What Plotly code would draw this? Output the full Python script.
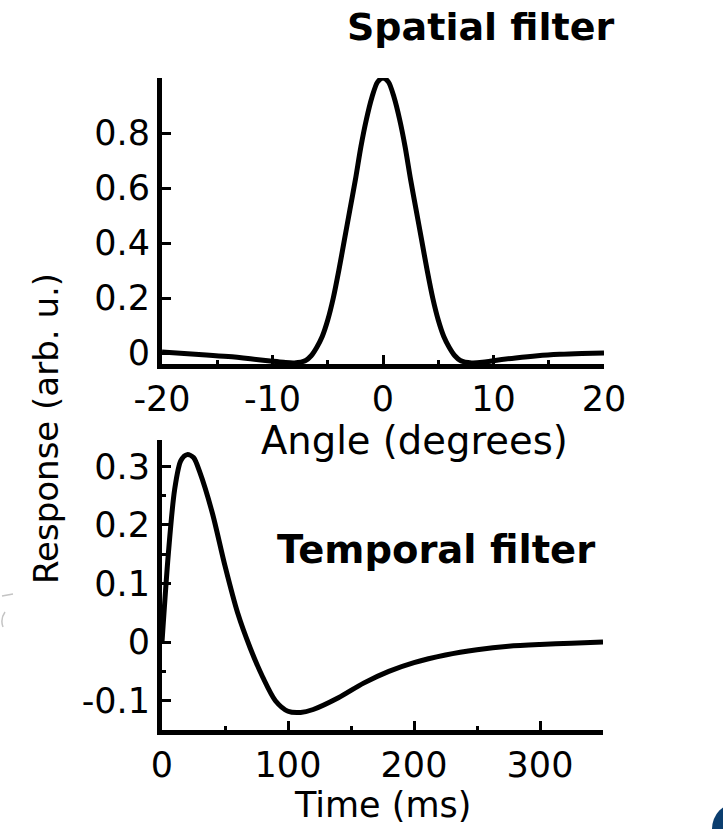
import plotly.graph_objects as go

# Spatial filter: response vs. visual angle (degrees)
angle_deg = [-20, -18, -16, -14, -12, -10, -9, -8, -7, -6.5, -6, -5.5, -5, -4.5, -4, -3.5,
             -3, -2.5, -2, -1.5, -1, -0.5, 0,
             0.5, 1, 1.5, 2, 2.5, 3, 3.5, 4, 4.5, 5, 5.5, 6, 6.5, 7, 8, 9, 10, 12, 14,
             16, 18, 20]
spatial_resp = [0.004, -0.002, -0.007, -0.013, -0.021, -0.030, -0.034, -0.036, -0.027, -0.01,
                0.02, 0.06, 0.12, 0.20, 0.30, 0.41, 0.52, 0.63, 0.75, 0.85, 0.93, 0.985, 1.0,
                0.985, 0.93, 0.85, 0.75, 0.63, 0.52, 0.41, 0.30, 0.20, 0.12, 0.06, 0.02,
                -0.01, -0.027, -0.036, -0.034, -0.028, -0.018, -0.010, -0.005, -0.002, 0.0]

# Temporal filter: response vs. time (ms)
time_ms = [0, 5, 10, 15, 20, 25, 30, 40, 50, 60, 70, 80, 90, 100, 110, 120, 140, 160,
           180, 200, 225, 250, 275, 300, 325, 350]
temporal_resp = [0.0, 0.15, 0.26, 0.31, 0.32, 0.315, 0.29, 0.22, 0.13, 0.05, -0.01, -0.06,
                 -0.10, -0.118, -0.12, -0.115, -0.095, -0.07, -0.05, -0.035, -0.022,
                 -0.013, -0.007, -0.004, -0.002, 0.0]

spatial_ticks = [-20, -10, 0, 10, 20]
spatial_ticktext = ["-20", "-10", "0", "10", "20"]
spatial_yticks = [0, 0.2, 0.4, 0.6, 0.8]
spatial_yticktext = ["0", "0.2", "0.4", "0.6", "0.8"]
temporal_ticks = [0, 100, 200, 300]
temporal_ticktext = ["0", "100", "200", "300"]
temporal_yticks = [-0.1, 0, 0.1, 0.2, 0.3]
temporal_yticktext = ["-0.1", "0", "0.1", "0.2", "0.3"]

W, H = 723, 829
FONT = "DejaVu Sans"


def fx(px):
    return px / W


def fy(py):
    return 1 - py / H


fig = go.Figure()
fig.add_trace(go.Scatter(x=angle_deg, y=spatial_resp, mode="lines",
                         line=dict(color="black", width=5, shape="spline", smoothing=0.8),
                         xaxis="x", yaxis="y", showlegend=False, hoverinfo="skip"))
fig.add_trace(go.Scatter(x=time_ms, y=temporal_resp, mode="lines",
                         line=dict(color="black", width=5, shape="spline", smoothing=0.8),
                         xaxis="x2", yaxis="y2", showlegend=False, hoverinfo="skip"))

axis_common = dict(showline=True, linecolor="black", linewidth=5, ticks="inside",
                   ticklen=9, tickwidth=3, tickcolor="black", showgrid=False,
                   zeroline=False, automargin=False,
                   tickfont=dict(family=FONT, size=35, color="black"))

fig.update_layout(
    width=W, height=H,
    margin=dict(l=0, r=0, t=0, b=0, autoexpand=False),
    paper_bgcolor="white", plot_bgcolor="white",
    xaxis=dict(domain=[fx(162), fx(604)], range=[-20, 20], anchor="y",
               tickvals=spatial_ticks, ticktext=spatial_ticktext,
               minor=dict(tickvals=[-15, -5, 5, 15], ticks="inside", ticklen=4,
                          tickwidth=3, tickcolor="black"),
               **axis_common),
    yaxis=dict(domain=[fy(364), fy(78)], range=[-0.04, 1.0], anchor="x",
               tickvals=spatial_yticks, ticktext=spatial_yticktext, **axis_common),
    xaxis2=dict(domain=[fx(162), fx(603)], range=[0, 350], anchor="y2",
                tickvals=temporal_ticks, ticktext=temporal_ticktext,
                minor=dict(tickvals=[50, 150, 250], ticks="inside", ticklen=4,
                           tickwidth=3, tickcolor="black"),
                **axis_common),
    yaxis2=dict(domain=[fy(730), fy(440)], range=[-0.15, 0.345], anchor="x2",
                tickvals=temporal_yticks, ticktext=temporal_yticktext,
                minor=dict(tickvals=[-0.05, 0.05, 0.15, 0.25], ticks="inside", ticklen=4,
                           tickwidth=3, tickcolor="black"),
                **axis_common),
)

annotations = [
    dict(text="<b>Spatial filter</b>", x=fx(480), y=fy(27), size=38),
    dict(text="<b>Temporal filter</b>", x=fx(436), y=fy(549), size=38.5),
    dict(text="Angle (degrees)", x=fx(415), y=fy(440), size=38.5),
    dict(text="Time (ms)", x=fx(382), y=fy(805), size=35),
]
for a in annotations:
    fig.add_annotation(text=a["text"], x=a["x"], y=a["y"], xref="paper", yref="paper",
                       xanchor="center", yanchor="middle", showarrow=False,
                       font=dict(family=FONT, size=a["size"], color="black"))

fig.add_annotation(text="Response (arb. u.)", x=fx(46), y=fy(429), xref="paper", yref="paper",
                   xanchor="center", yanchor="middle", showarrow=False, textangle=-90,
                   font=dict(family=FONT, size=34, color="black"))

# faint pencil stroke at the left edge
fig.add_shape(type="path", xref="paper", yref="paper",
              path=(f"M {fx(13)} {fy(594)} L {fx(2)} {fy(596)} "
                    f"M {fx(5)} {fy(612)} Q {fx(0)} {fy(619)} {fx(3)} {fy(627)}"),
              line=dict(color="#c4c4c4", width=1.5), layer="below")

# corner badge partly cut off at the page edge
fig.add_shape(type="circle", xref="paper", yref="paper",
              x0=fx(712), x1=fx(762), y0=fy(855), y1=fy(803),
              fillcolor="#0b3e6f", line=dict(width=0), layer="above")

fig.write_html("out.html")
